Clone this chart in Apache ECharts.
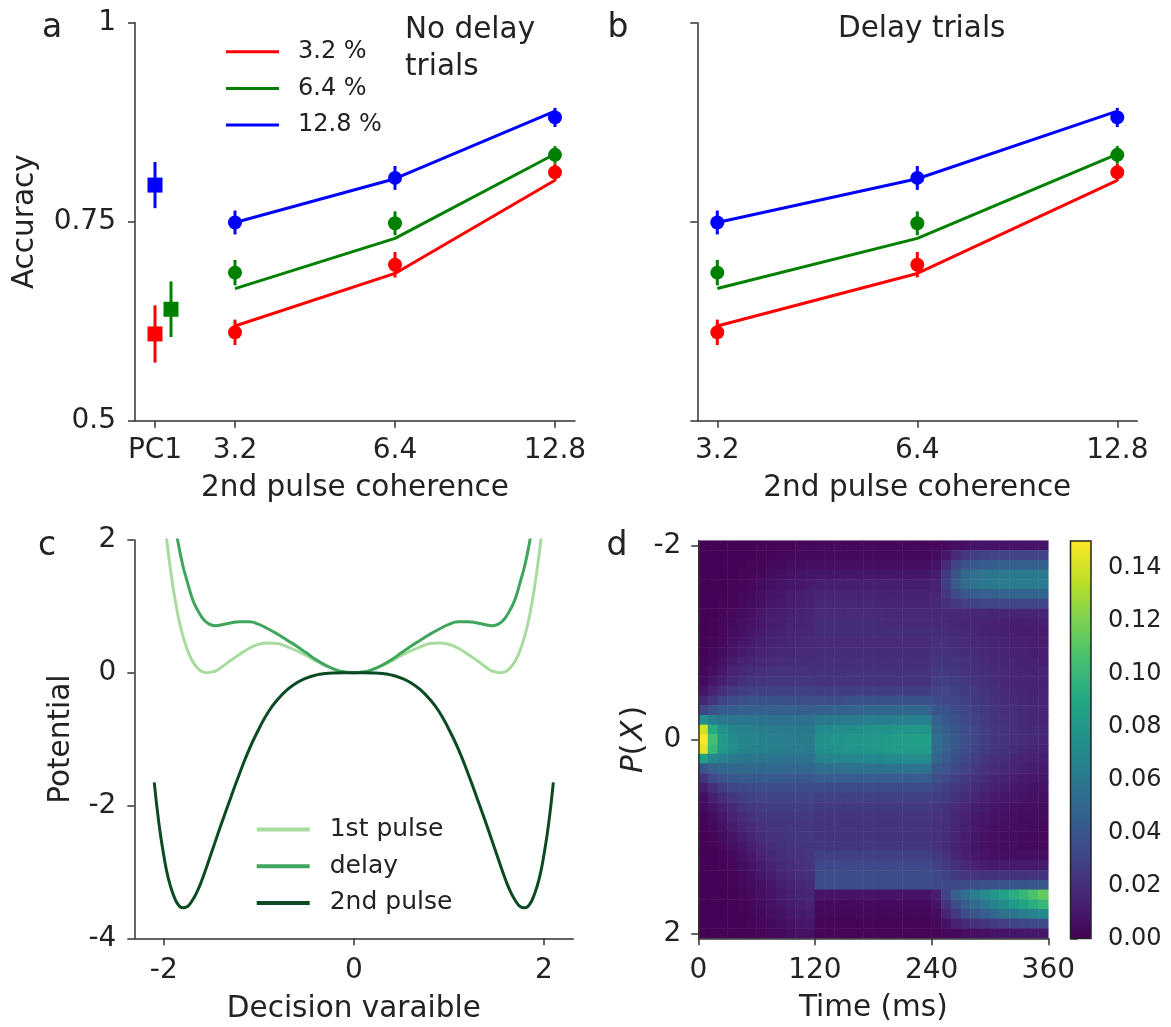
<!DOCTYPE html>
<html><head><meta charset="utf-8">
<script src="https://cdn.jsdelivr.net/npm/echarts@6/dist/echarts.min.js"></script>
<style>html,body{margin:0;padding:0;background:#fff}#chart{width:1171px;height:1027px}</style>
</head><body><div id="chart"></div><script>
// ================= DATA =================
// Panels a/b: accuracy vs 2nd pulse coherence
const coherenceLabels = ['3.2', '6.4', '12.8'];
const coherenceValues = [3.2, 6.4, 12.8];
const pc1Label = 'PC1';
const seriesNames = ['3.2 %', '6.4 %', '12.8 %'];

// a: no delay trials (dots = data, err = half error bar, fit = model line)
const noDelayDots32 = [0.611, 0.696, 0.812];
const noDelayErr32  = [0.016, 0.016, 0.011];
const noDelayFit32  = [0.619, 0.685, 0.802];
const noDelayDots64 = [0.686, 0.748, 0.834];
const noDelayErr64  = [0.016, 0.015, 0.011];
const noDelayFit64  = [0.666, 0.729, 0.835];
const noDelayDots128 = [0.749, 0.805, 0.881];
const noDelayErr128  = [0.015, 0.015, 0.012];
const noDelayFit128  = [0.749, 0.804, 0.889];
// PC1 (first pulse only) accuracy for 3.2, 6.4, 12.8 %
const pc1Acc = [0.609, 0.640, 0.796];
const pc1Err = [0.036, 0.035, 0.029];

// b: delay trials
const delayDots32 = [0.611, 0.696, 0.812];
const delayErr32  = [0.016, 0.016, 0.011];
const delayFit32  = [0.619, 0.685, 0.802];
const delayDots64 = [0.686, 0.748, 0.834];
const delayErr64  = [0.016, 0.015, 0.011];
const delayFit64  = [0.666, 0.729, 0.835];
const delayDots128 = [0.749, 0.805, 0.881];
const delayErr128  = [0.015, 0.015, 0.012];
const delayFit128  = [0.749, 0.804, 0.889];

// Panel c: potentials
const potX = [-2.1,-2.05,-2.0,-1.95,-1.9,-1.85,-1.8,-1.75,-1.7,-1.65,-1.6,-1.55,-1.5,-1.45,-1.4,-1.3,-1.2,-1.1,-1.0,-0.9,-0.8,-0.7,-0.6,-0.5,-0.4,-0.3,-0.2,-0.1,0,0.1,0.2,0.3,0.4,0.5,0.6,0.7,0.8,0.9,1.0,1.1,1.2,1.3,1.4,1.45,1.5,1.55,1.6,1.65,1.7,1.75,1.8,1.85,1.9,1.95,2.0,2.05,2.1];
const pot1stPulse = [4.18,3.22,2.42,1.78,1.27,0.86,0.56,0.34,0.18,0.08,0.02,0.0,0.01,0.03,0.075,0.18,0.28,0.37,0.43,0.45,0.44,0.39,0.33,0.26,0.18,0.11,0.05,0.01,0,0.01,0.05,0.11,0.18,0.26,0.33,0.39,0.44,0.45,0.43,0.37,0.28,0.18,0.075,0.03,0.01,0.0,0.02,0.08,0.18,0.34,0.56,0.86,1.27,1.78,2.42,3.22,4.18];
const potDelay = [5.0,4.2,3.5,2.9,2.4,1.97,1.62,1.36,1.12,0.96,0.84,0.76,0.72,0.71,0.72,0.75,0.77,0.77,0.73,0.66,0.58,0.49,0.40,0.30,0.20,0.115,0.05,0.012,0,0.012,0.05,0.115,0.20,0.30,0.40,0.49,0.58,0.66,0.73,0.77,0.77,0.75,0.72,0.71,0.72,0.76,0.84,0.96,1.12,1.36,1.62,1.97,2.4,2.9,3.5,4.2,5.0];
const pot2ndPulse = [-1.65,-2.28,-2.75,-3.11,-3.34,-3.49,-3.54,-3.52,-3.43,-3.30,-3.13,-2.93,-2.72,-2.51,-2.30,-1.90,-1.51,-1.15,-0.85,-0.59,-0.40,-0.255,-0.15,-0.08,-0.035,-0.012,-0.003,0,0,0,-0.003,-0.012,-0.035,-0.08,-0.15,-0.255,-0.40,-0.59,-0.85,-1.15,-1.51,-1.90,-2.30,-2.51,-2.72,-2.93,-3.13,-3.30,-3.43,-3.52,-3.54,-3.49,-3.34,-3.11,-2.75,-2.28,-1.65];
const potNames = ['1st pulse', 'delay', '2nd pulse'];

// Panel d: P(X) over time. Time bin centres (ms), decision-variable bins, values x1000
const timeBins = [5,15,25,35,45,55,65,75,85,95,105,115,125,135,145,155,165,175,185,195,205,215,225,235,245,255,265,275,285,295,305,315,325,335,345,355];
const dvBins = [-2.0,-1.9,-1.8,-1.7,-1.6,-1.5,-1.4,-1.3,-1.2,-1.1,-1.0,-0.9,-0.8,-0.7,-0.6,-0.5,-0.4,-0.3,-0.2,-0.1,0.0,0.1,0.2,0.3,0.4,0.5,0.6,0.7,0.8,0.9,1.0,1.1,1.2,1.3,1.4,1.5,1.6,1.7,1.8,1.9,2.0];
const probMilli = [
[1,1,1,1,1,1,1,2,2,2,3,3, 3,3,3,3,3,3,3,3,3,3,3,3, 3,4,6,7,8,8,8,8,8,8,8,8],
[1,1,1,1,1,1,2,2,3,3,4,4, 4,4,4,4,4,4,4,4,4,4,4,4, 5,10,18,24,27,29,30,30,30,30,30,30],
[1,1,1,1,1,2,2,3,4,5,5,6, 6,6,6,6,6,6,6,6,6,6,6,6, 8,18,30,38,42,44,45,45,45,45,45,45],
[1,1,1,1,2,2,3,5,6,7,8,9, 9,9,9,9,9,9,9,9,9,9,9,9, 12,25,40,50,55,58,59,60,60,60,60,60],
[1,1,1,2,2,3,5,6,8,9,10,11, 13,13,13,13,13,13,13,13,12,12,12,12, 14,27,42,52,57,60,61,62,62,62,62,62],
[1,1,1,2,3,4,6,8,9,11,12,13, 15,15,15,15,15,15,15,14,14,14,14,14, 15,24,34,40,44,46,47,48,48,48,48,48],
[1,1,2,2,4,5,7,9,11,12,13,14, 17,17,17,17,17,17,16,16,16,16,16,16, 16,20,25,28,30,31,31,31,31,31,31,31],
[1,1,2,3,5,7,9,11,12,13,14,15, 18,18,18,18,18,18,18,17,17,17,17,17, 17,17,17,17,17,17,16,16,16,16,16,16],
[1,2,3,4,6,8,10,12,13,14,15,16, 19,19,19,19,19,19,19,18,18,18,18,18, 18,18,17,16,15,14,14,13,13,13,13,13],
[1,2,3,5,7,9,11,13,14,15,16,17, 19,19,19,19,19,19,19,19,19,19,19,19, 19,19,18,17,16,15,14,13,13,12,12,12],
[1,2,4,6,9,11,13,14,15,16,17,17, 18,18,18,18,18,18,18,18,18,18,18,18, 20,20,19,18,17,16,15,14,13,13,12,12],
[1,3,5,8,11,13,15,16,17,17,18,18, 19,19,19,19,19,19,19,19,19,19,19,19, 21,21,20,19,18,17,16,15,14,14,13,13],
[2,4,7,11,14,16,17,18,19,19,19,19, 20,20,20,20,20,20,20,20,20,20,20,20, 23,23,22,21,19,18,17,16,15,14,14,13],
[3,6,10,14,17,19,20,20,21,21,21,21, 21,21,21,21,21,21,21,21,21,21,21,21, 25,25,24,22,21,19,18,17,16,15,14,14],
[4,8,13,17,20,22,23,23,23,23,23,23, 22,22,22,22,22,22,22,22,22,22,22,22, 27,27,26,24,22,20,19,17,16,15,15,14],
[8,14,20,25,27,28,28,28,28,28,28,28, 27,27,27,27,27,27,27,27,27,27,27,27, 30,30,28,26,24,22,20,18,17,16,15,15],
[16,24,30,34,36,37,37,37,37,36,36,36, 36,36,36,37,37,37,37,37,37,37,37,37, 34,33,31,28,26,23,21,19,18,17,16,15],
[30,38,43,45,46,46,46,45,45,45,44,44, 47,47,48,48,48,49,49,49,49,49,49,49, 40,37,34,31,28,25,22,20,19,18,17,16],
[75,64,60,59,58,57,57,56,56,55,55,55, 60,61,61,62,62,63,63,63,64,64,64,64, 46,41,37,33,29,26,23,21,20,18,17,16],
[140,92,75,69,66,64,63,62,62,61,60,60, 70,71,72,73,74,75,76,76,77,77,78,78, 51,45,40,35,31,27,24,22,20,19,18,17],
[150,105,82,73,69,67,66,65,64,63,62,62, 75,76,77,78,79,80,81,82,83,83,84,84, 54,47,41,36,31,27,24,22,20,19,17,16],
[145,100,80,72,68,66,65,64,63,62,62,61, 74,75,76,77,78,79,80,81,82,82,83,83, 53,46,40,35,30,26,23,21,19,17,16,15],
[85,70,64,61,59,58,58,57,57,56,56,56, 66,67,68,68,69,70,70,71,71,72,72,72, 49,43,37,32,28,24,21,19,17,15,14,13],
[40,47,50,51,51,51,50,50,50,49,49,49, 54,54,55,55,56,56,56,57,57,57,57,57, 42,38,33,29,25,21,19,17,15,13,12,11],
[22,32,38,41,42,42,42,42,42,42,41,41, 44,44,44,44,44,44,44,44,44,44,44,44, 36,33,29,25,22,19,16,14,13,11,10,9],
[12,20,27,31,33,34,35,35,35,35,34,34, 34,34,34,34,34,34,34,34,34,34,34,34, 31,28,25,22,19,16,14,12,10,9,8,8],
[6,13,19,24,27,29,30,30,30,30,30,30, 28,28,28,28,28,28,28,28,28,28,28,28, 27,25,22,19,16,13,11,10,9,8,7,6],
[4,8,13,18,22,25,26,27,27,27,27,27, 25,25,25,25,25,25,25,25,25,25,25,25, 24,22,19,16,13,11,9,8,7,6,6,5],
[2,5,9,14,18,21,23,24,25,25,25,25, 23,23,23,23,23,23,23,23,23,23,23,23, 22,20,17,14,11,9,8,7,6,5,5,5],
[1,3,7,11,15,18,21,22,23,24,24,24, 22,22,22,22,22,22,22,22,22,22,22,22, 21,19,16,13,10,8,7,6,5,5,4,4],
[1,2,5,8,12,16,19,21,22,23,24,24, 22,22,22,22,22,22,22,22,22,22,22,22, 21,19,15,12,9,7,6,5,5,4,4,4],
[1,2,3,6,9,13,17,19,21,22,23,24, 24,24,24,24,24,24,24,24,24,24,24,24, 22,19,15,12,9,7,6,5,5,4,4,4],
[1,1,2,4,7,10,14,17,19,21,22,23, 28,28,28,28,28,28,28,28,28,28,28,28, 25,21,17,13,10,8,7,6,6,6,6,6],
[1,1,2,3,5,8,11,14,17,19,21,22, 32,32,32,32,32,32,32,32,32,32,32,32, 29,25,21,17,14,12,11,11,11,11,11,11],
[1,1,1,2,4,6,9,12,15,17,19,20, 35,35,35,35,35,35,35,35,35,35,35,35, 32,29,26,24,22,21,21,21,21,21,22,22],
[1,1,1,2,3,5,7,10,13,15,17,18, 35,35,35,35,35,35,35,35,35,35,35,35, 33,32,33,34,36,37,38,39,40,40,41,41],
[1,1,1,1,2,4,6,8,11,13,15,16, 8,8,8,8,8,8,8,8,8,8,8,8, 12,30,45,55,63,71,79,86,93,100,107,114],
[1,1,1,1,2,3,5,7,9,11,13,14, 4,4,4,4,4,4,4,4,4,4,4,4, 8,22,35,44,52,59,66,73,80,87,94,100],
[1,1,1,1,1,2,4,6,8,9,11,12, 3,3,3,3,3,3,3,3,3,3,3,3, 5,15,26,34,40,45,50,55,59,63,67,70],
[1,1,1,1,1,2,3,4,6,7,9,10, 2,2,2,2,2,2,2,2,2,2,2,2, 3,8,14,18,21,24,26,28,30,32,34,35],
[1,1,1,1,1,1,2,3,4,5,6,7, 2,2,2,2,2,2,2,2,2,2,2,2, 2,3,4,5,6,7,8,8,9,9,10,10]
];
const colorbarMax = 0.15;
const colorbarTicks = [0, 0.02, 0.04, 0.06, 0.08, 0.10, 0.12, 0.14];

// ================= STYLE / BUILD =================
const FONT = 'DejaVu Sans';
const TXT = '#222';
const AX = '#333';
const COLORS = ['#ff0000', '#008000', '#0000ff'];
const GREENS = ['#a8dc9f', '#3fa55c', '#0b4a22'];
const VIRIDIS = ['#440154','#482475','#414487','#355f8d','#2a788e','#21918c','#22a884','#44bf70','#7ad151','#bddf26','#fde725'];

const cohPos = coherenceValues.map(c => Math.log2(c / coherenceValues[0]));
const pc1Pos = -0.5;
const pc1Jitter = [0, 0.1, 0];
const aTickPos = [pc1Pos].concat(cohPos);
const aTickText = [pc1Label].concat(coherenceLabels);
const labelFor = (v, pos, txt) => { const i = pos.findIndex(p => Math.abs(p - v) < 1e-6); return i < 0 ? '' : txt[i]; };

const axisLine = {show: true, onZero: false, lineStyle: {color: AX, width: 1.5}};
const axisTick = {show: true, inside: false, length: 7, lineStyle: {color: AX, width: 1.5}};
const lbl = (extra) => Object.assign({fontSize: 28, fontFamily: FONT, color: TXT}, extra || {});
const nameStyle = {fontSize: 29.5, fontFamily: FONT, color: TXT};

function errorBars(name, xi, yi, xs, ys, es, color) {
  return {
    type: 'custom', name, xAxisIndex: xi, yAxisIndex: yi, z: 3, silent: true,
    data: xs.map((x, i) => [x, ys[i] - es[i], ys[i] + es[i]]),
    encode: {x: 0, y: [1, 2]},
    renderItem: (params, api) => {
      const x = api.value(0);
      const lo = api.coord([x, api.value(1)]);
      const hi = api.coord([x, api.value(2)]);
      return {type: 'line', shape: {x1: lo[0], y1: lo[1], x2: hi[0], y2: hi[1]}, style: {stroke: color, lineWidth: 3}};
    }
  };
}
function accuracyPanel(idx, dots, errs, fits, withLegendNames) {
  const out = [];
  for (let k = 0; k < 3; k++) {
    out.push({
      type: 'line', name: withLegendNames ? seriesNames[k] : 'fit' + idx + k, xAxisIndex: idx, yAxisIndex: idx,
      data: cohPos.map((x, i) => [x, fits[k][i]]), showSymbol: false, symbol: 'none', z: 2, silent: true,
      color: COLORS[k], lineStyle: {color: COLORS[k], width: 3}, itemStyle: {color: COLORS[k]}
    });
    out.push(errorBars('err' + idx + k, idx, idx, cohPos, dots[k], errs[k], COLORS[k]));
    out.push({
      type: 'scatter', name: 'dot' + idx + k, xAxisIndex: idx, yAxisIndex: idx, z: 4, silent: true,
      data: cohPos.map((x, i) => [x, dots[k][i]]), symbol: 'circle', symbolSize: 14,
      itemStyle: {color: COLORS[k], opacity: 1}
    });
  }
  return out;
}

const series = [];
series.push(...accuracyPanel(0, [noDelayDots32, noDelayDots64, noDelayDots128], [noDelayErr32, noDelayErr64, noDelayErr128], [noDelayFit32, noDelayFit64, noDelayFit128], true));
// PC1 markers
for (let k = 0; k < 3; k++) {
  const x = pc1Pos + pc1Jitter[k];
  series.push(errorBars('pc1err' + k, 0, 0, [x], [pc1Acc[k]], [pc1Err[k]], COLORS[k]));
  series.push({type: 'scatter', name: 'pc1' + k, xAxisIndex: 0, yAxisIndex: 0, z: 4, silent: true,
    data: [[x, pc1Acc[k]]], symbol: 'rect', symbolSize: 15, itemStyle: {color: COLORS[k], opacity: 1}});
}
series.push(...accuracyPanel(1, [delayDots32, delayDots64, delayDots128], [delayErr32, delayErr64, delayErr128], [delayFit32, delayFit64, delayFit128], false));

// Panel c
[pot1stPulse, potDelay, pot2ndPulse].forEach((arr, k) => {
  series.push({type: 'line', name: potNames[k], xAxisIndex: 2, yAxisIndex: 2, clip: true,
    data: potX.map((x, i) => [x, arr[i]]), showSymbol: false, symbol: 'none', smooth: 0.5, silent: true,
    color: GREENS[k], lineStyle: {color: GREENS[k], width: 3}, itemStyle: {color: GREENS[k]}, z: 2 + k});
});

// Panel d heatmap
const heatData = [];
probMilli.forEach((row, yi) => row.forEach((v, xi) => heatData.push([xi, yi, v / 1000])));
const heatIndex = series.length;
series.push({type: 'heatmap', name: 'P(X)', xAxisIndex: 4, yAxisIndex: 4, data: heatData, progressive: 0, silent: true, emphasis: {disabled: true}});

const option = {
  animation: false,
  backgroundColor: '#fff',
  textStyle: {fontFamily: FONT},
  grid: [
    {left: 135, top: 22.7, width: 440, height: 398, outerBoundsMode: 'none'},
    {left: 697.3, top: 22.7, width: 440, height: 398, outerBoundsMode: 'none'},
    {left: 134.3, top: 540, width: 439, height: 398.3, outerBoundsMode: 'none'},
    {left: 698.3, top: 540.7, width: 350, height: 397.6, outerBoundsMode: 'none'},
    {left: 1070.5, top: 541, width: 20.5, height: 397.5, outerBoundsMode: 'none'}
  ],
  xAxis: [
    {type: 'value', gridIndex: 0, position: 'bottom', min: -0.625, max: 2.125, splitLine: {show: false}, axisLine,
     axisTick: Object.assign({}, axisTick, {customValues: aTickPos}),
     axisLabel: lbl({customValues: aTickPos, margin: 16, formatter: v => labelFor(v, aTickPos, aTickText)}),
     name: '2nd pulse coherence', nameLocation: 'middle', nameGap: 53, nameTextStyle: nameStyle},
    {type: 'value', gridIndex: 1, position: 'bottom', min: -0.1, max: 2.1, splitLine: {show: false}, axisLine,
     axisTick: Object.assign({}, axisTick, {customValues: cohPos}),
     axisLabel: lbl({customValues: cohPos, margin: 16, formatter: v => labelFor(v, cohPos, coherenceLabels)}),
     name: '2nd pulse coherence', nameLocation: 'middle', nameGap: 53, nameTextStyle: nameStyle},
    {type: 'value', gridIndex: 2, position: 'bottom', min: -2.31, max: 2.31, splitLine: {show: false}, axisLine,
     axisTick: Object.assign({}, axisTick, {customValues: [-2, 0, 2]}),
     axisLabel: lbl({customValues: [-2, 0, 2], margin: 18}),
     name: 'Decision varaible', nameLocation: 'middle', nameGap: 56, nameTextStyle: nameStyle},
    {type: 'value', gridIndex: 3, position: 'bottom', min: 0, max: 360, interval: 120, splitLine: {show: false}, axisLine, axisTick, z: 10,
     axisLabel: lbl({margin: 18}),
     name: 'Time (ms)', nameLocation: 'middle', nameGap: 55, nameTextStyle: nameStyle},
    {type: 'category', gridIndex: 3, position: 'top', data: timeBins.map(String), show: false},
    {type: 'value', gridIndex: 4, position: 'bottom', min: 0, max: 1, show: false}
  ],
  yAxis: [
    {type: 'value', gridIndex: 0, position: 'left', min: 0.5, max: 1, interval: 0.25, splitLine: {show: false}, axisLine, axisTick,
     axisLabel: lbl({margin: 19}),
     name: 'Accuracy', nameLocation: 'middle', nameGap: 95, nameTextStyle: nameStyle},
    {type: 'value', gridIndex: 1, position: 'left', min: 0.5, max: 1, interval: 0.25, splitLine: {show: false}, axisLine, axisTick,
     axisLabel: {show: false}},
    {type: 'value', gridIndex: 2, position: 'left', min: -4, max: 2, interval: 2, splitLine: {show: false}, axisLine, axisTick,
     axisLabel: lbl({margin: 18}),
     name: 'Potential', nameLocation: 'middle', nameGap: 58, nameTextStyle: nameStyle},
    {type: 'value', gridIndex: 3, position: 'left', min: -2.05, max: 2.05, inverse: true, splitLine: {show: false}, axisLine, z: 10,
     axisTick: Object.assign({}, axisTick, {customValues: [-2, 0, 2]}),
     axisLabel: lbl({customValues: [-2, 0, 2], margin: 17}),
     name: '{i|P}(\u200a{i|X}\u200a)', nameLocation: 'middle', nameGap: 44,
     nameTextStyle: Object.assign({}, nameStyle, {rich: {i: {fontStyle: 'italic', fontSize: 29.5, fontFamily: FONT, color: TXT}}})},
    {type: 'category', gridIndex: 3, position: 'right', data: dvBins.map(String), inverse: true, show: false},
    {type: 'value', gridIndex: 4, position: 'right', min: 0, max: colorbarMax, splitLine: {show: false},
     axisLine: {show: false}, axisTick: Object.assign({}, axisTick, {customValues: colorbarTicks}),
     axisLabel: {customValues: colorbarTicks, fontSize: 24, fontFamily: FONT, color: TXT, margin: 17, formatter: v => v.toFixed(2)}}
  ],
  visualMap: [{
    type: 'continuous', seriesIndex: heatIndex, min: 0, max: colorbarMax, calculable: false, realtime: false,
    inRange: {color: VIRIDIS}, orient: 'vertical', left: 1070.5, top: 541, itemWidth: 20.5, itemHeight: 397.5,
    padding: 0, text: null, showLabel: false, hoverLink: false
  }],
  legend: [
    {data: seriesNames, orient: 'vertical', left: 226, top: 39.7, icon: 'rect', itemWidth: 53, itemHeight: 3, itemGap: 12.7,
     padding: 0, selectedMode: false, textStyle: {fontSize: 24, fontFamily: FONT, color: TXT, padding: [0, 0, 0, 14]}},
    {data: potNames, orient: 'vertical', left: 256.7, top: 817, icon: 'rect', itemWidth: 53, itemHeight: 4, itemGap: 11.7,
     padding: 0, selectedMode: false, textStyle: {fontSize: 25, fontFamily: FONT, color: TXT, padding: [0, 0, 0, 15]}}
  ],
  graphic: [
    {type: 'text', x: 52, y: 28, style: {text: 'a', fontSize: 33, fontFamily: FONT, fill: TXT, align: 'center', verticalAlign: 'middle'}},
    {type: 'text', x: 618, y: 28, style: {text: 'b', fontSize: 33, fontFamily: FONT, fill: TXT, align: 'center', verticalAlign: 'middle'}},
    {type: 'text', x: 47, y: 546, style: {text: 'c', fontSize: 33, fontFamily: FONT, fill: TXT, align: 'center', verticalAlign: 'middle'}},
    {type: 'text', x: 617, y: 546, style: {text: 'd', fontSize: 33, fontFamily: FONT, fill: TXT, align: 'center', verticalAlign: 'middle'}},
    {type: 'text', x: 405, y: 30, style: {text: 'No delay', fontSize: 29.5, fontFamily: FONT, fill: TXT, align: 'left', verticalAlign: 'middle'}},
    {type: 'text', x: 405, y: 67, style: {text: 'trials', fontSize: 29.5, fontFamily: FONT, fill: TXT, align: 'left', verticalAlign: 'middle'}},
    {type: 'text', x: 921.7, y: 29, style: {text: 'Delay trials', fontSize: 29.5, fontFamily: FONT, fill: TXT, align: 'center', verticalAlign: 'middle'}},
    {type: 'rect', z: 100, shape: {x: 1070.5, y: 541, width: 20.5, height: 397.5}, style: {fill: 'none', stroke: '#222', lineWidth: 1.5}}
  ],
  series
};
const chart = echarts.init(document.getElementById('chart'), null, {renderer: 'canvas'});
chart.setOption(option);
</script></body></html>
